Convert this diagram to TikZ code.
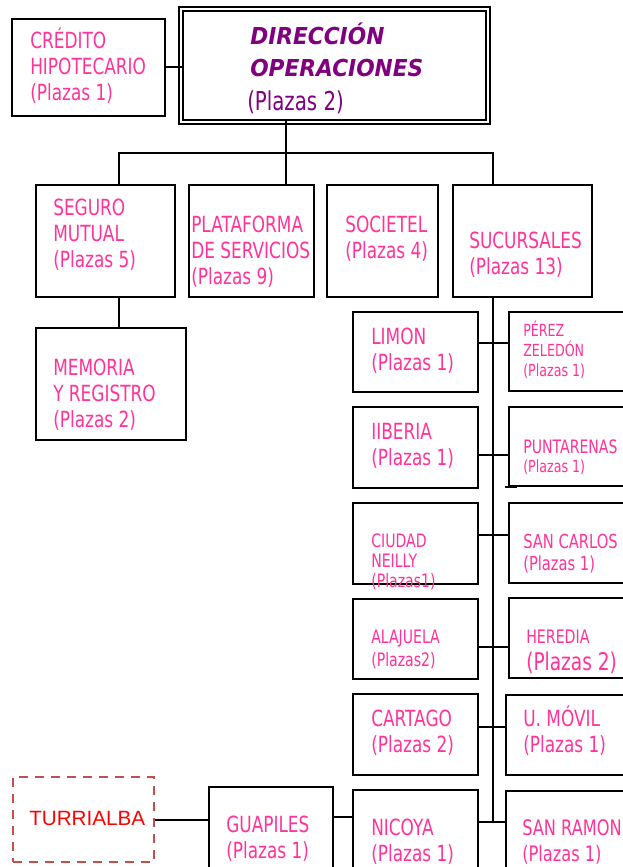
\documentclass[tikz,border=0pt]{standalone}
\usepackage{fontspec}
\newfontfamily\condf{DejaVu Sans}[FakeStretch=0.76]
\newfontfamily\widef{DejaVu Sans}[FakeStretch=0.93]
\newfontfamily\arialf{Liberation Sans}
\usetikzlibrary{fit}
\definecolor{rosa}{RGB}{255,51,153}
\definecolor{morado}{RGB}{128,0,128}
\definecolor{rojizo}{RGB}{192,80,77}
\tikzset{
	caja/.style={draw, line width=1.5pt, inner sep=0pt},
	enlace/.style={line width=1.5pt},
	txt/.style={anchor=base west, inner sep=0pt, align=left, text=rosa, font=\condf\fontsize{16.7}{19.5}\selectfont},
	chico/.style={txt, font=\condf\fontsize{12.5}{14.8}\selectfont},
	medio/.style={txt, font=\condf\fontsize{14}{15.5}\selectfont},
}
\begin{document}
\begin{tikzpicture}[x=0.75pt, y=-0.75pt]
	\clip (0,0) rectangle (623,867);
	\fill[white] (0,0) rectangle (623,867);
	% cajas
	\node[caja, fit={(12,19) (165,116)}] (credito) {};
	\node[caja, double, double distance=1.5pt, fit={(180.5,9.5) (487.5,122)}] (direccion) {};
	\node[caja, fit={(36,185) (175,297)}] (seguro) {};
	\node[caja, fit={(189,185) (314,297)}] (plataforma) {};
	\node[caja, fit={(327,185) (438,297)}] (societel) {};
	\node[caja, fit={(453,185) (592,297)}] (sucursales) {};
	\node[caja, fit={(36,328) (186,440)}] (memoria) {};
	\node[caja, fit={(353,312) (478,392)}] (limon) {};
	\node[caja, fit={(509,312) (640,391)}] (perez) {};
	\node[caja, fit={(353,407) (478,488)}] (iberia) {};
	\node[caja, fit={(509,407) (640,486)}] (puntarenas) {};
	\node[caja, fit={(353,503) (478,584)}] (ciudad) {};
	\node[caja, fit={(509,503) (640,583)}] (sancarlos) {};
	\node[caja, fit={(353,599) (478,679)}] (alajuela) {};
	\node[caja, fit={(509,598) (640,678)}] (heredia) {};
	\node[caja, fit={(353,694) (478,775)}] (cartago) {};
	\node[caja, fit={(506,695) (640,775)}] (umovil) {};
	\node[caja, fit={(353,790) (478,900)}] (nicoya) {};
	\node[caja, fit={(506,791) (640,900)}] (sanramon) {};
	\node[caja, fit={(209,787) (333,900)}] (guapiles) {};
	\node[caja, draw=rojizo, line width=1.8pt, dash pattern=on 7pt off 5pt, fit={(13,777) (154,862)}] (turrialba) {};
	\draw[line width=1.8pt] (puntarenas.south west) ++(-3,0) -- ++(12,0);

	% textos (base = ultima linea)
	\node[txt] at (30,100) (t-credito) {CRÉDITO\\HIPOTECARIO\\(Plazas 1)};
	\node[txt, text=morado, font=\widef\bfseries\itshape\fontsize{17.5}{24.2}\selectfont] at (250,77) (t-direccion) {DIRECCIÓN\\OPERACIONES};
	\node[txt, text=morado, font=\condf\fontsize{19.5}{22}\selectfont] at (247,110) (t-plazas) {(Plazas 2)};
	\node[txt] at (53,267) (t-seguro) {SEGURO\\MUTUAL\\(Plazas 5)};
	\node[txt] at (191,284) (t-plataforma) {PLATAFORMA\\DE SERVICIOS\\(Plazas 9)};
	\node[txt] at (345,258) (t-societel) {SOCIETEL\\(Plazas 4)};
	\node[txt] at (469,274) (t-sucursales) {SUCURSALES\\(Plazas 13)};
	\node[txt] at (53,427) (t-memoria) {MEMORIA\\Y REGISTRO\\(Plazas 2)};
	\node[txt] at (371,370) (t-limon) {LIMON\\(Plazas 1)};
	\node[chico] at (523,376) (t-perez) {PÉREZ\\ZELEDÓN\\(Plazas 1)};
	\node[txt] at (371,465) (t-iberia) {IIBERIA\\(Plazas 1)};
	\node[medio, font=\condf\fontsize{13.9}{15}\selectfont] at (523,453) (t-puntarenas) {PUNTARENAS};
	\node[chico] at (523,472) (t-puntarenas2) {(Plazas 1)};
	\node[medio, font=\condf\fontsize{13.9}{15}\selectfont] at (371,587) (t-ciudad) {CIUDAD\\NEILLY\\(Plazas1)};
	\node[medio, font=\condf\fontsize{14.5}{16.5}\selectfont] at (523,570) (t-sancarlos) {SAN CARLOS\\(Plazas 1)};
	\node[medio, font=\condf\fontsize{13.9}{17}\selectfont] at (371,666) (t-alajuela) {ALAJUELA\\(Plazas2)};
	\node[medio] at (526,643) (t-heredia) {HEREDIA};
	\node[txt, font=\condf\fontsize{18.3}{20}\selectfont] at (526,670) (t-heredia2) {(Plazas 2)};
	\node[txt] at (371,752) (t-cartago) {CARTAGO\\(Plazas 2)};
	\node[txt] at (523,752) (t-umovil) {U. MÓVIL\\(Plazas 1)};
	\node[txt] at (371,861) (t-nicoya) {NICOYA\\(Plazas 1)};
	\node[txt, font=\condf\fontsize{16}{19.5}\selectfont] at (522,861) (t-sanramon) {SAN RAMON\\(Plazas 1)};
	\node[txt] at (226,858) (t-guapiles) {GUAPILES\\(Plazas 1)};
	\node[txt, text=red, font=\arialf\fontsize{15.5}{18}\selectfont] at (29,825) (t-turrialba) {TURRIALBA};

	% enlaces
	\coordinate (b1) at (119,153);
	\coordinate (b2) at (286,153);
	\coordinate (b3) at (493,153);
	\coordinate (tfin) at (493,822);
	\coordinate (gn) at (340,817);
	\draw[enlace] (credito.east) -- (direccion.west |- credito.east) -- ++(3,0);
	\draw[enlace] (b2 |- direccion.south) ++(0,-3) -- (b2);
	\draw[enlace] (b1 |- seguro.north) -- (b1) -- (b3) -- (b3 |- sucursales.north);
	\draw[enlace] (b2) -- (b2 |- plataforma.north);
	\draw[enlace] (b1 |- seguro.south) -- (b1 |- memoria.north);
	\draw[enlace] (tfin |- sucursales.south) -- (tfin);
	\foreach \l/\r/\y in {limon/perez/343, iberia/puntarenas/455, ciudad/sancarlos/535, alajuela/heredia/647, cartago/umovil/727, nicoya/sanramon/822}{
		\coordinate (j\l) at (493,\y);
		\draw[enlace] (\l.east |- j\l) -- (\r.west |- j\l);
	}
	\draw[enlace] (guapiles.east |- gn) -- (nicoya.west |- gn);
	\draw[enlace] (turrialba.east) -- (guapiles.west |- turrialba.east);
\end{tikzpicture}
\end{document}
